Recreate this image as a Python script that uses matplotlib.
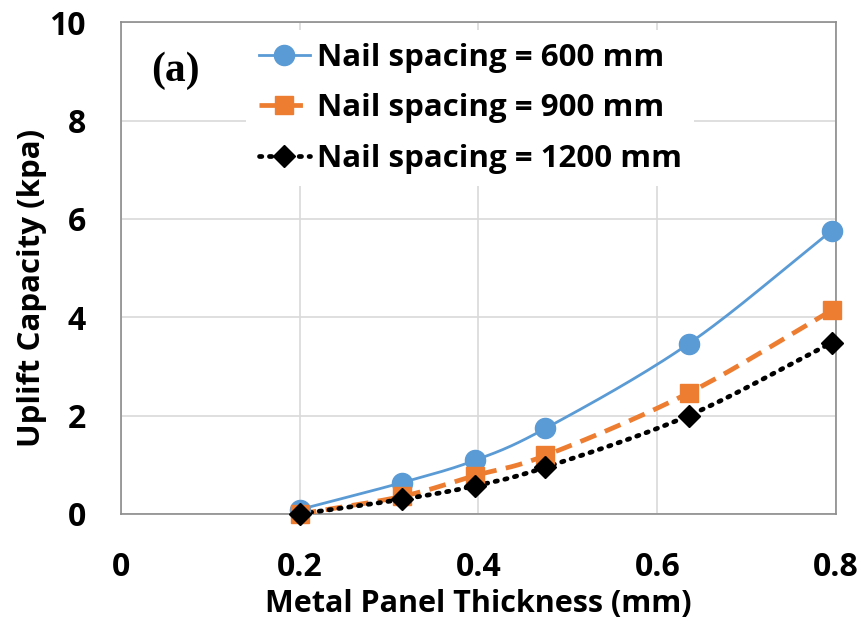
import numpy as np
import matplotlib
matplotlib.use("Agg")
import matplotlib.pyplot as plt

# data
thickness = [0.2, 0.315, 0.396, 0.475, 0.635, 0.795]
uplift_600 = [0.09, 0.64, 1.09, 1.74, 3.46, 5.76]
uplift_900 = [0.0, 0.36, 0.78, 1.19, 2.46, 4.14]
uplift_1200 = [0.0, 0.30, 0.57, 0.95, 2.0, 3.48]
labels = ["Nail spacing = 600 mm", "Nail spacing = 900 mm", "Nail spacing = 1200 mm"]
x_ticks = [0, 0.2, 0.4, 0.6, 0.8]
x_ticklabels = ["0", "0.2", "0.4", "0.6", "0.8"]
y_ticks = [0, 2, 4, 6, 8, 10]


def smooth(x, y, n=30):
    # catmull-rom curve through the points, like Excel's smoothed line
    x = np.asarray(x, float)
    y = np.asarray(y, float)
    px = np.concatenate([[2 * x[0] - x[1]], x, [2 * x[-1] - x[-2]]])
    py = np.concatenate([[2 * y[0] - y[1]], y, [2 * y[-1] - y[-2]]])
    xs, ys = [], []
    t = np.linspace(0, 1, n)
    for i in range(1, len(px) - 2):
        for p, out in ((px, xs), (py, ys)):
            p0, p1, p2, p3 = p[i - 1], p[i], p[i + 1], p[i + 2]
            out.extend(0.5 * (2 * p1 + (-p0 + p2) * t
                              + (2 * p0 - 5 * p1 + 4 * p2 - p3) * t ** 2
                              + (-p0 + 3 * p1 - 3 * p2 + p3) * t ** 3))
    return xs, ys


plt.rcParams['font.family'] = ['Open Sans', 'DejaVu Sans']
fig = plt.figure(figsize=(8.62, 6.33), dpi=100)
ax = fig.add_axes([0.140, 0.188, 0.830, 0.777])

styles = [
    dict(color='#5B9BD5', ls='-', lw=2.0, marker='o', ms=14.5),
    dict(color='#ED7D31', ls=(0, (3.6, 2.0)), lw=3.4, marker='s', ms=12.5),
    dict(color='black', ls=(0, (0.5, 1.6)), lw=3.4, marker='D', ms=11.5),
]
series = [uplift_600, uplift_900, uplift_1200]
handles = []
for ys, st, lab in zip(series, styles, labels):
    cap = 'round' if st['marker'] == 'D' else 'butt'
    sx, sy = smooth(thickness, ys)
    ax.plot(sx, sy, color=st['color'], ls=st['ls'], lw=st['lw'], zorder=3,
            dash_capstyle=cap)
    ax.plot(thickness, ys, ls='none', marker=st['marker'], ms=st['ms'],
            color=st['color'], zorder=4, clip_on=False)
    h, = ax.plot([], [], color=st['color'], ls=st['ls'], lw=st['lw'],
                 marker=st['marker'], ms=st['ms'], label=lab, dash_capstyle=cap)
    handles.append(h)

ax.set_xlim(0, 0.8)
ax.set_ylim(0, 10)
ax.set_xticks(x_ticks)
ax.set_xticklabels(x_ticklabels)
ax.set_yticks(y_ticks)
ax.grid(True, color='#d9d9d9', lw=1.2, zorder=0)
ax.set_axisbelow(True)
for s in ax.spines.values():
    s.set_color('#8c8c8c')
    s.set_linewidth(1.2)
ax.tick_params(length=0, labelsize=23)
ax.tick_params(axis='x', pad=27)
ax.tick_params(axis='y', pad=25)
for t in ax.get_xticklabels() + ax.get_yticklabels():
    t.set_fontweight('bold')

ax.set_xlabel('Metal Panel Thickness (mm)', fontsize=22, fontweight='bold', labelpad=3)
ax.set_ylabel('Uplift Capacity (kpa)', fontsize=22.5, fontweight='bold')
ax.yaxis.set_label_coords(-0.103, 0.459)

ax.text(0.043, 0.902, '(a)', transform=ax.transAxes, fontsize=30, fontweight='bold',
        family='Liberation Serif', va='center', ha='left')

leg = ax.legend(handles=handles, loc='upper left', bbox_to_anchor=(0.1755, 0.984),
                fontsize=22.5, frameon=True, handlelength=1.63, handletextpad=0.22,
                labelspacing=0.66, borderpad=0.4, borderaxespad=0)
leg.get_frame().set_edgecolor('none')
leg.get_frame().set_facecolor('white')
leg.get_frame().set_alpha(1)
for t in leg.get_texts():
    t.set_fontweight('bold')

fig.savefig('out.png', dpi=100)
